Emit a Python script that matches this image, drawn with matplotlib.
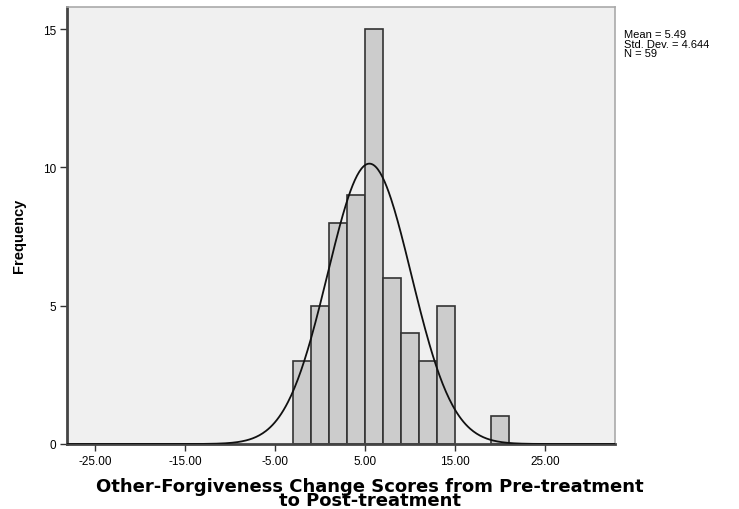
import numpy as np
import matplotlib
matplotlib.use("Agg")
import matplotlib.pyplot as plt

# histogram bins (left edges, width 2) and counts
bin_lefts = [-3, -1, 1, 3, 5, 7, 9, 11, 13, 19]
counts = [3, 5, 8, 9, 15, 6, 4, 3, 5, 1]
bin_width = 2

mean_val = 5.49
std_val = 4.644
n_val = 59

x_ticks = [-25, -15, -5, 5, 15, 25]
y_ticks = [0, 5, 10, 15]

plt.rcParams['font.family'] = ['Liberation Sans', 'DejaVu Sans']

fig = plt.figure(figsize=(7.39, 5.10), dpi=100)
ax = fig.add_axes([67.3/739, 65/510, (615-67.3)/739, (445-8)/510])
ax.set_facecolor('#F0F0F0')

ax.bar(bin_lefts, counts, width=bin_width, align='edge',
       color='#CCCCCC', edgecolor='#333333', linewidth=1.2, zorder=2)

# normal curve from the reported mean / sd
xs = np.linspace(-28.1, 32.8, 500)
pdf = np.exp(-0.5*((xs-mean_val)/std_val)**2)/(std_val*np.sqrt(2*np.pi))
ax.plot(xs, pdf*n_val*bin_width, color='#111111', linewidth=1.3, zorder=3)

ax.set_xlim(-28.1, 32.8)
ax.set_ylim(0, 15.8)
ax.set_xticks(x_ticks)
ax.set_xticklabels([f"{t:.2f}" for t in x_ticks])
ax.set_yticks(y_ticks)
ax.tick_params(axis='both', labelsize=8.5, length=5, width=1, color='#333333', pad=3)

for side in ['left', 'bottom']:
    ax.spines[side].set_color('#444444')
    ax.spines[side].set_linewidth(2)
for side in ['top', 'right']:
    ax.spines[side].set_color('#AAAAAA')
    ax.spines[side].set_linewidth(1.2)

fig.text(370/739, 1-494/510, "Other-Forgiveness Change Scores from Pre-treatment\nto Post-treatment",
         ha='center', va='center', fontsize=13, fontweight='bold', linespacing=0.78,
         family='DejaVu Sans')
fig.text(19/739, 1-236/510, "Frequency", rotation=90, ha='center', va='center',
         fontsize=10.5, fontweight='bold')

fig.text(624/739, 1-30/510,
         f"Mean = {mean_val:.2f}\nStd. Dev. = {std_val:.3f}\nN = {n_val}",
         ha='left', va='top', fontsize=8, linespacing=0.95)

fig.savefig('out.png', dpi=100)
